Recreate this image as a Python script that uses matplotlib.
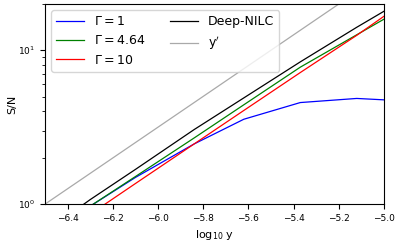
import numpy as np
import matplotlib.pyplot as plt

# values (x = log10 y, S/N)
log_y = [-6.5, -6.3, -6.1, -5.84, -5.62, -5.37, -5.12, -5.0]
sn_gamma1 = [0.63, 0.97, 1.49, 2.46, 3.56, 4.57, 4.86, 4.76]
sn_gamma464 = [0.63, 0.97, 1.51, 2.69, 4.42, 7.76, 12.6, 15.9]
sn_gamma10 = [0.547, 0.86, 1.36, 2.46, 4.06, 7.16, 12.5, 16.6]
sn_deepnilc = [0.66, 1.07, 1.68, 3.05, 4.9, 8.4, 14.1, 17.9]

log_y_prime = [-6.5, -5.0]
sn_yprime = [1.0, 31.6]

fig, ax = plt.subplots(figsize=(3.99, 2.45), dpi=100)

ax.plot(log_y, sn_gamma1, color='blue', lw=0.9, label=r'$\Gamma = 1$')
ax.plot(log_y, sn_gamma464, color='green', lw=0.9, label=r'$\Gamma = 4.64$')
ax.plot(log_y, sn_gamma10, color='red', lw=0.9, label=r'$\Gamma = 10$')
ax.plot(log_y, sn_deepnilc, color='black', lw=0.9, label='Deep-NILC')
ax.plot(log_y_prime, sn_yprime, color='darkgray', lw=0.9, label=r"y$'$")

ax.set_yscale('log')
ax.set_xlim(-6.5, -5.0)
ax.set_ylim(1, 20)
ax.set_xlabel(r'log$_{10}$ y', fontsize=8)
ax.set_ylabel('S/N', fontsize=8, labelpad=1)
ax.tick_params(labelsize=6.5)
ax.legend(ncol=2, loc='upper left', fontsize=9, handlelength=2.2,
          columnspacing=2.0)

plt.subplots_adjust(left=0.113, right=0.962, top=0.984, bottom=0.167)
plt.savefig('out.png', dpi=100)
